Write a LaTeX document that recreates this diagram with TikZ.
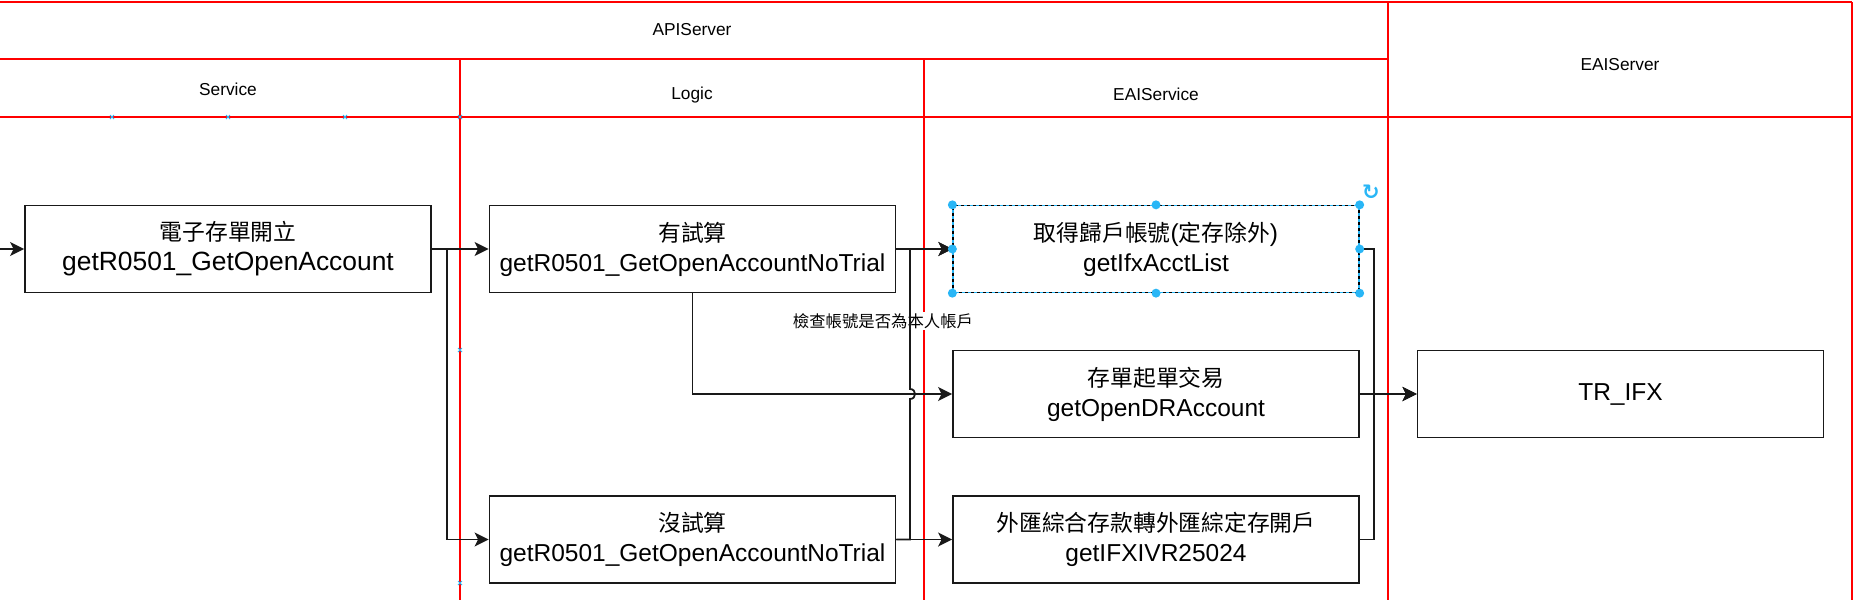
\documentclass[tikz,border=0pt]{standalone}
\usepackage{fontspec}
\setmainfont{Liberation Sans}
\newfontfamily\cjk[Scale=0.93]{Noto Sans CJK TC}
\newfontfamily\symfont{DejaVu Sans}
\usetikzlibrary{arrows.meta}
\definecolor{lanered}{RGB}{255,0,0}
\definecolor{selblue}{RGB}{41,182,246}
\newcommand{\zh}[1]{{\cjk #1}}
\begin{document}
\begin{tikzpicture}[x=1pt,y=-1pt,
		lane/.style={draw=lanered, line width=1.3pt},
		hdr/.style={font=\fontsize{17.3}{20}\selectfont},
		box/.style={draw=black!90, line width=1.8pt, fill=white, minimum width=406pt, minimum height=87pt, align=center, inner sep=0pt, font=\fontsize{24.5}{30}\selectfont},
		selbox/.style={box, draw=selblue, line width=1.3pt, postaction={draw=black, line width=1.3pt, dash pattern=on 3pt off 3pt}},
		flow/.style={draw=black!90, line width=1.8pt, -{Stealth[length=14pt, width=14pt, inset=3.5pt]}}]
		\useasboundingbox (0,0) rectangle (1855,600);
		% swimlanes
		\draw [lane] (0,2) -- (1852,2);
		\draw [lane] (0,59) -- (1388,59);
		\draw [lane] (0,117) -- (1852,117);
		\draw [lane] (460,59) -- (460,600);
		\draw [lane] (924,59) -- (924,600);
		\draw [lane] (1388,2) -- (1388,600);
		\draw [lane] (1852,2) -- (1852,600);
		\node [hdr] (apiServer) at (692,30) {APIServer};
		\node [hdr] (eaiServer) at (1620,65) {EAIServer};
		\node [hdr] (service) at (228,89) {Service};
		\node [hdr] (logic) at (692,95) {Logic};
		\node [hdr] (eaiService) at (1156,94) {EAIService};
		\foreach \x/\y in {112/117, 228/117, 345/117, 460/117, 460/350, 460/583}
			\draw [selblue, line width=0.8pt] (\x-2,\y-2) -- (\x+2,\y+2) (\x-2,\y+2) -- (\x+2,\y-2);
		% boxes
		\node [box] (open) at (228,249) {\zh{電子存單開立}\\{\fontsize{26.4}{30}\selectfont getR0501\_GetOpenAccount}};
		\node [box] (trial) at (692.5,249) {\zh{有試算}\\getR0501\_GetOpenAccountNoTrial};
		\node [box] (noTrial) at (692.5,539.5) {\zh{沒試算}\\getR0501\_GetOpenAccountNoTrial};
		\node [selbox] (acct) at (1156,249) {\zh{取得歸戶帳號}(\zh{定存除外})\\getIfxAcctList};
		\node [box] (drAcct) at (1156,394) {\zh{存單起單交易}\\getOpenDRAccount};
		\node [box] (ifx) at (1156,539.5) {\zh{外匯綜合存款轉外匯綜定存開戶}\\getIFXIVR25024};
		\node [box] (tr) at (1620.5,394) {TR\_IFX};
		\node [fill=white, inner sep=1pt, font=\fontsize{17.6}{20}\selectfont] (check) at (883,321) {\zh{檢查帳號是否為本人帳戶}};
		% connectors
		\coordinate (in) at (0,249);
		\draw [flow] (in) -- (open.west);
		\draw [flow] (open.east) -- (trial.west);
		\draw [flow] (open.east) -- ++(15,0) |- (noTrial.west);
		\draw [flow] (trial.east) -- (acct.west);
		\draw [flow] (trial.south) |- (drAcct.west);
		\draw [flow] (noTrial.east) -- (ifx.west);
		\draw [flow] (noTrial.east) -- (910,539.5) -- (910,399) .. controls (916.7,399) and (916.7,389) .. (910,389) |- (acct.west);
		\draw [flow] (drAcct.east) -- (tr.west);
		\draw [flow] (acct.east) -- (1374,249) |- (tr.west);
		\draw [flow] (ifx.east) -- (1374,539.5) |- (tr.west);
		% selection handles
		\foreach \a in {north west, north, north east, east, south east, south, south west, west}
			\fill [selblue] (acct.\a) circle (4.5pt);
		\node [text=selblue, font=\symfont\bfseries\fontsize{21}{21}\selectfont] (rotate) at (1371,192) {↻};
	\end{tikzpicture}
\end{document}
